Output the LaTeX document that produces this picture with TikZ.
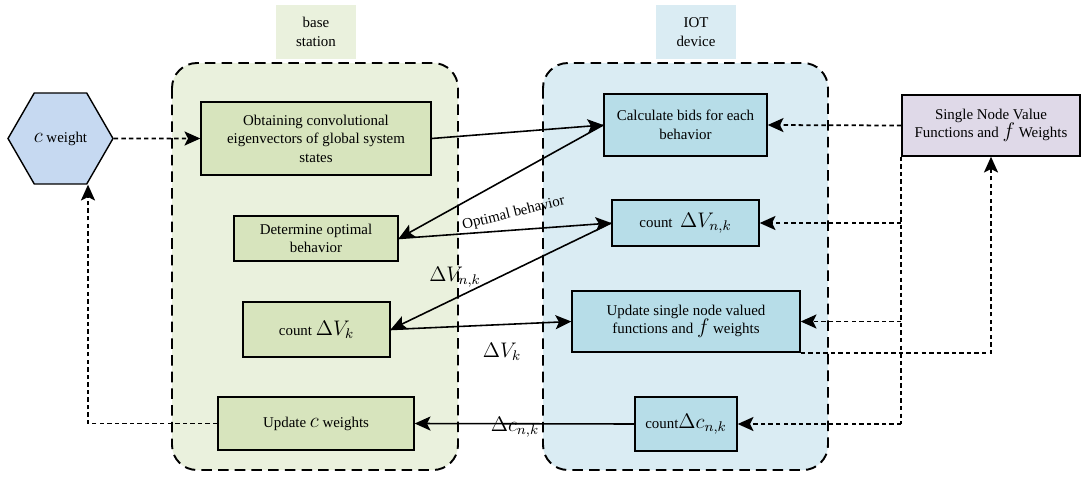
\documentclass[tikz,border=0pt]{standalone}
\usepackage{fontspec}
\setmainfont{Liberation Serif}
\usetikzlibrary{arrows.meta,calc,shapes.geometric}

\definecolor{stationbg}{HTML}{EAF1DD}
\definecolor{stationbox}{HTML}{D7E4BD}
\definecolor{devicebg}{HTML}{DAECF3}
\definecolor{devicebox}{HTML}{B7DDE8}
\definecolor{hexfill}{HTML}{C6D9F1}
\definecolor{valuebox}{HTML}{DFD9E8}

\tikzset{
	box/.style={draw=black, line width=0.8pt, align=center, inner sep=1pt, font=\fontsize{8.5}{10.5}\selectfont},
	greenbox/.style={box, fill=stationbox},
	bluebox/.style={box, fill=devicebox},
	zone/.style={draw=black, line width=1.1pt, dash pattern=on 6pt off 3.5pt, rounded corners=0.5cm},
	zonelabel/.style={align=center, minimum width=1.6cm, minimum height=1.1cm, font=\fontsize{8.5}{10.5}\selectfont},
	tip/.style={-{Stealth[length=9pt,width=8pt,inset=2pt]}},
	flow/.style={line width=0.9pt, tip},
	dotflow/.style={line width=1pt, dash pattern=on 2.5pt off 1.8pt},
	mathlabel/.style={font=\fontsize{12}{14}\selectfont, inner sep=0pt},
}

\begin{document}
\begin{tikzpicture}[x=0.02cm, y=-0.02cm]
		%%%%% START %%%%%
		\useasboundingbox (0, 0) rectangle (1082, 477);
		
		\draw[zone, fill=stationbg] (172, 63) rectangle (458, 470);
		\draw[zone, fill=devicebg] (543, 63) rectangle (828, 470);
		\node[zonelabel, fill=stationbg] (stationlabel) at (316, 32) {base\\station};
		\node[zonelabel, fill=devicebg] (devicelabel) at (696, 32) {IOT\\device};
		
		\node[box, fill=hexfill, regular polygon, regular polygon sides=6, minimum size=2.1cm, inner sep=0pt] (hex) at (60.5, 138.5) {{\large$c$} weight};
		
		\node[greenbox, minimum width=4.6cm, minimum height=1.46cm] (obtain) at (316, 138.5) {Obtaining convolutional\\eigenvectors of global system\\states};
		\node[greenbox, minimum width=3.28cm, minimum height=0.9cm] (determine) at (316, 238.5) {Determine optimal\\behavior};
		\node[greenbox, minimum width=2.94cm, minimum height=1.1cm] (countVk) at (316.5, 329.5) {count {\large$\Delta V_k$}};
		\node[greenbox, minimum width=3.92cm, minimum height=1.06cm] (updatec) at (316, 423.5) {Update {\large$c$} weights};
		
		\node[bluebox, minimum width=3.26cm, minimum height=1.24cm] (bids) at (685.5, 125) {Calculate bids for each\\behavior};
		\node[bluebox, minimum width=2.94cm, minimum height=0.92cm] (countVnk) at (685.5, 223) {count \ {\large$\Delta V_{n,k}$}};
		\node[bluebox, minimum width=4.56cm, minimum height=1.22cm] (updatef) at (686, 321.5) {Update single node valued\\functions and {\large$f$} weights};
		\node[bluebox, minimum width=2.04cm, minimum height=1.08cm] (countcnk) at (686, 424) {count{\large$\Delta c_{n,k}$}};
		
		\node[box, fill=valuebox, minimum width=3.56cm, minimum height=1.22cm] (single) at (991, 125.5) {Single Node Value\\Functions and {\large$f$} Weights};
		
		% solid flows between the two zones
		\draw[flow] (obtain.east) -- (bids.west);
		\draw[flow] (bids.west) -- (determine.east);
		\draw[flow] (determine.east) -- node[pos=0.56, rotate=14, above=2pt, font=\fontsize{8.5}{10.5}\selectfont] (optlabel) {Optimal behavior} (countVnk.west);
		\draw[flow] (countVnk.west) -- (countVk.east);
		\draw[flow] (countVk.east) -- (updatef.west);
		\draw[flow] (countcnk.west) -- (updatec.east);
		
		\node[mathlabel] (dVnk) at (455, 277) {$\Delta V_{n,k}$};
		\node[mathlabel] (dVk) at (502, 352) {$\Delta V_k$};
		\node[mathlabel] (dcnk) at (515, 427) {$\Delta c_{n,k}$};
		
		% dashed feedback
		\draw[dotflow, tip] (hex.east) -- (obtain.west);
		\draw[dotflow, tip] (updatec.west) -| ($(hex.south)+(27.5, 0)$);
		\draw[dotflow, tip] (single.west) -- (bids.east);
		\draw[dotflow] (single.south west) -- (single.south west |- countcnk.east);
		\draw[dotflow, tip] (single.south west |- countVnk.east) -- (countVnk.east);
		\draw[dotflow, tip] (single.south west |- updatef.east) -- (updatef.east);
		\draw[dotflow, tip] (single.south west |- countcnk.east) -- (countcnk.east);
		\draw[dotflow, tip] (updatef.south east) -| (single.south);
		
		%%%%% END %%%%%
\end{tikzpicture}
\end{document}
